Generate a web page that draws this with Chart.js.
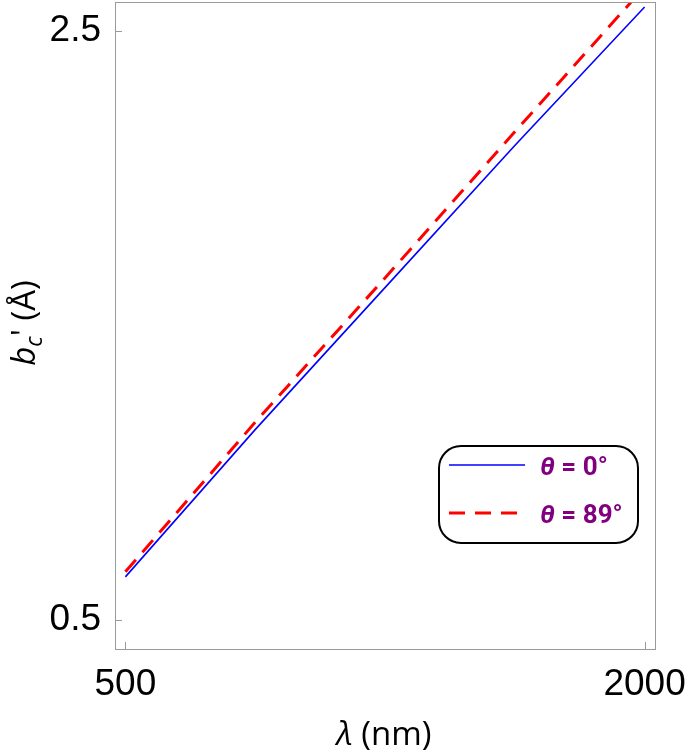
<!DOCTYPE html>
<html lang="en">

<head>
    <meta charset="UTF-8">
    <title>b_c' vs wavelength</title>
    <script src="https://cdn.jsdelivr.net/npm/chart.js"></script>
    <style>
        html, body { margin: 0; padding: 0; background: #fff; }
        #wrap { width: 685px; height: 754px; position: relative; }
    </style>
</head>

<body>
    <div id="wrap"><canvas id="grafico"></canvas></div>

    <script>
        // values
        const lambdaNm = [500, 875, 1250, 1625, 2000];
        const theta0 = [0.645, 1.145, 1.627, 2.110, 2.580];
        const theta89 = [0.662, 1.170, 1.660, 2.156, 2.648];
        const xTicks = [500, 2000];
        const yTicks = [0.5, 2.5];
        const seriesLabels = ['θ = 0°', 'θ = 89°'];

        const toPoints = (ys) => lambdaNm.map((x, i) => ({ x: x, y: ys[i] }));

        const frameColor = '#9a9a9a';

        // frame, inner ticks, axis titles and the rounded legend box
        const decor = {
            id: 'decor',
            afterDraw(chart) {
                const ctx = chart.ctx;
                const a = chart.chartArea;
                const xs = chart.scales.x, ys = chart.scales.y;
                ctx.save();
                ctx.strokeStyle = frameColor;
                ctx.lineWidth = 1;
                ctx.strokeRect(a.left + 0.5, a.top + 0.5, a.right - a.left, a.bottom - a.top);
                ctx.beginPath();
                xTicks.forEach(v => {
                    const px = Math.round(xs.getPixelForValue(v)) + 0.5;
                    ctx.moveTo(px, a.bottom);
                    ctx.lineTo(px, a.bottom - 7);
                });
                yTicks.forEach(v => {
                    const py = Math.round(ys.getPixelForValue(v)) + 0.5;
                    ctx.moveTo(a.left, py);
                    ctx.lineTo(a.left + 7, py);
                });
                ctx.stroke();

                // x title
                ctx.fillStyle = '#000';
                ctx.textBaseline = 'alphabetic';
                ctx.textAlign = 'left';
                const xt1 = 'λ', xt2 = ' (nm)';
                ctx.font = 'italic 33px "Open Sans"';
                const w1 = ctx.measureText(xt1).width;
                ctx.font = '33px "Open Sans"';
                const w2 = ctx.measureText(xt2).width;
                let sx = 384 - (w1 + w2) / 2;
                ctx.font = 'italic 33px "Open Sans"';
                ctx.fillText(xt1, sx, 745);
                ctx.font = '33px "Open Sans"';
                ctx.fillText(xt2, sx + w1, 745);

                // y title, rotated
                ctx.save();
                ctx.translate(35, 323);
                ctx.rotate(-Math.PI / 2);
                ctx.font = 'italic 33px "Open Sans"';
                const wb = ctx.measureText('b').width;
                ctx.font = 'italic 23px "Open Sans"';
                const wc = ctx.measureText('c').width;
                ctx.font = '33px "Open Sans"';
                const wr = ctx.measureText("' (Å)").width;
                let ty = -(wb + wc + wr) / 2;
                ctx.font = 'italic 33px "Open Sans"';
                ctx.fillText('b', ty, 0);
                ctx.font = 'italic 23px "Open Sans"';
                ctx.fillText('c', ty + wb, 7);
                ctx.font = '33px "Open Sans"';
                ctx.fillText("' (Å)", ty + wb + wc, 0);
                ctx.restore();

                // legend
                const bx = 439, by = 446, bw = 199, bh = 97;
                ctx.beginPath();
                ctx.roundRect(bx, by, bw, bh, 22);
                ctx.fillStyle = '#fff';
                ctx.fill();
                ctx.strokeStyle = '#000';
                ctx.lineWidth = 2;
                ctx.stroke();
                const rows = [465, 513];
                chart.data.datasets.forEach((ds, i) => {
                    ctx.beginPath();
                    ctx.strokeStyle = ds.borderColor;
                    ctx.lineWidth = ds.borderWidth;
                    ctx.setLineDash(ds.borderDash || []);
                    ctx.moveTo(449, rows[i]);
                    ctx.lineTo(i === 0 ? 525 : 520, rows[i]);
                    ctx.stroke();
                    ctx.setLineDash([]);
                    const parts = ds.label.split(' ');
                    ctx.fillStyle = '#800080';
                    ctx.font = 'italic bold 26px Roboto';
                    ctx.fillText(parts[0], 540, rows[i] + 10);
                    const wt = ctx.measureText(parts[0]).width;
                    ctx.font = 'bold 26px Roboto';
                    ctx.fillText(' ' + parts.slice(1).join(' '), 540 + wt, rows[i] + 10);
                });
                ctx.restore();
            }
        };

        const ctx = document.getElementById('grafico').getContext('2d');
        new Chart(ctx, {
            type: 'line',
            data: {
                datasets: [
                    {
                        label: seriesLabels[0],
                        data: toPoints(theta0),
                        borderColor: '#0000ff',
                        borderWidth: 1.6,
                        pointRadius: 0,
                        fill: false
                    },
                    {
                        label: seriesLabels[1],
                        data: toPoints(theta89),
                        borderColor: '#ff0000',
                        borderWidth: 3,
                        borderDash: [16, 10],
                        pointRadius: 0,
                        fill: false
                    }
                ]
            },
            options: {
                responsive: true,
                maintainAspectRatio: false,
                animation: false,
                layout: { padding: { top: 2, right: 30, left: 0, bottom: 0 } },
                plugins: { legend: { display: false }, tooltip: { enabled: false } },
                scales: {
                    x: {
                        type: 'linear',
                        min: 470,
                        max: 2030,
                        grid: { display: false },
                        border: { display: false },
                        afterBuildTicks: (s) => { s.ticks = xTicks.map(v => ({ value: v })); },
                        afterFit: (s) => { s.height = 105; s.paddingLeft = 0; s.paddingRight = 0; },
                        ticks: {
                            color: '#000',
                            font: { family: '"Liberation Sans", Arial', size: 37 },
                            padding: 6,
                            maxRotation: 0,
                            callback: (v) => String(v)
                        }
                    },
                    y: {
                        min: 0.4,
                        max: 2.597,
                        grid: { display: false },
                        border: { display: false },
                        afterBuildTicks: (s) => { s.ticks = yTicks.map(v => ({ value: v })); },
                        afterFit: (s) => { s.width = 115; s.paddingTop = 0; s.paddingBottom = 0; },
                        ticks: {
                            color: '#000',
                            font: { family: '"Liberation Sans", Arial', size: 37 },
                            padding: 6,
                            callback: (v) => v.toFixed(1)
                        }
                    }
                }
            },
            plugins: [decor]
        });
    </script>
</body>

</html>
